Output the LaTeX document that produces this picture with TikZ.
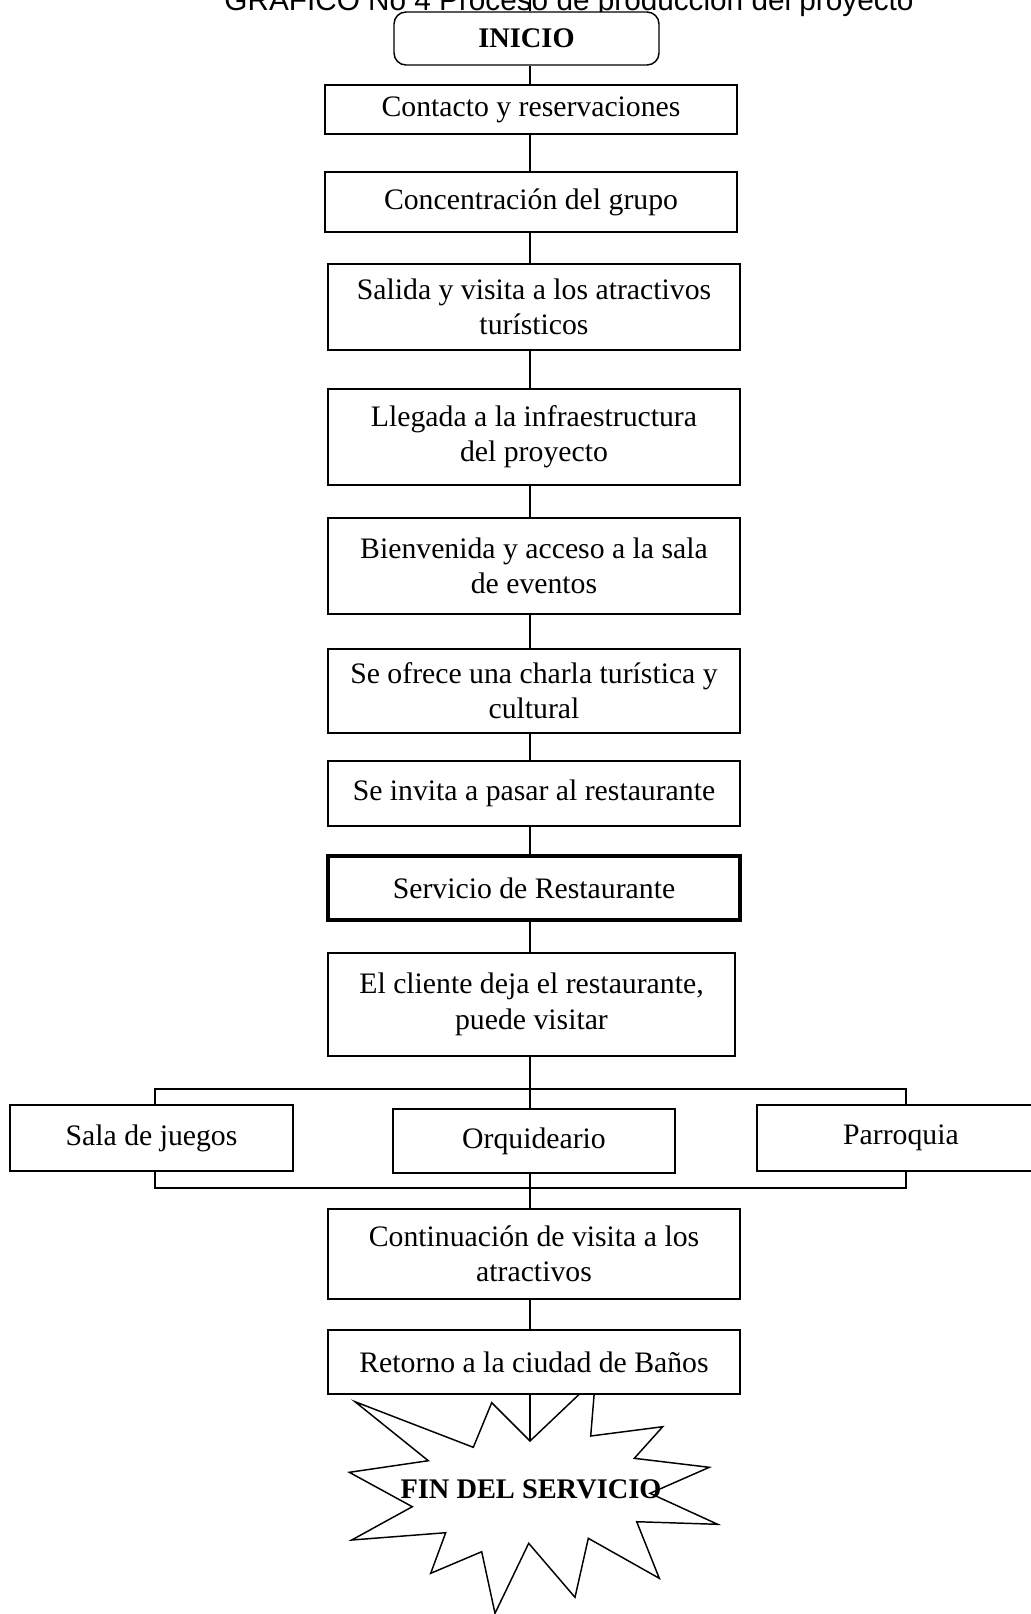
\documentclass[tikz,border=0pt]{standalone}
\usepackage{fontspec}
\setmainfont{Liberation Serif}
\newfontfamily\titlefont{Liberation Sans}
\begin{document}
\begin{tikzpicture}[x=0.75pt,y=-0.75pt,
  box/.style={draw, line width=1.1pt, fill=white, align=center, inner sep=0pt,
    font=\fontsize{22.3}{26.5}\selectfont},
  thickbox/.style={box, line width=2.4pt},
  conn/.style={draw, line width=0.9pt},
  boldtext/.style={font=\bfseries\fontsize{21.3}{24}\selectfont, inner sep=0pt}]
\useasboundingbox (0,0) rectangle (1031,1614);

% title (clipped at the top edge, as in the reference)
\node[anchor=base, inner sep=0pt, font=\titlefont\fontsize{22.3}{26}\selectfont] (title) at (569,10)
  {GRAFICO No 4 Proceso de producción del proyecto};

% chain axis
\coordinate (ax) at (530,0);

% starburst (drawn first so the last box covers its top spike)
\draw[line width=1.1pt, fill=white]
  (355,1401.7) -- (473.3,1447.3) -- (491.7,1402.7) -- (530,1441) -- (595.4,1378.9)
  -- (590.7,1436) -- (662.7,1426.7) -- (634.3,1458.3) -- (709.3,1467.3)
  -- (650,1493.3) -- (717.7,1524.3) -- (636.7,1521.7) -- (659.3,1578.3)
  -- (588.3,1538.3) -- (575,1597.3) -- (528.7,1543.3) -- (495,1613.3)
  -- (481.7,1551.7) -- (430.7,1573.3) -- (445.7,1532.7) -- (351.7,1540)
  -- (412.3,1506.7) -- (349.3,1472.3) -- (428.3,1460.7) -- cycle;
\coordinate (starin) at (530,1441);
\node[boldtext] (fin) at (531,1489) {FIN DEL SERVICIO};

% nodes
\node[box, rounded corners=9pt, minimum width=198.75pt, minimum height=39.75pt,
  font=\bfseries\fontsize{21.3}{24}\selectfont] (inicio) at (526.5,38.5) {INICIO};
\node[box, minimum width=309pt, minimum height=36.75pt] (c1) at (531,109.5) {Contacto y reservaciones};
\node[box, minimum width=309pt, minimum height=45pt] (c2) at (531,202) {Concentración del grupo};
\node[box, minimum width=309pt, minimum height=64.5pt] (c3) at (534,307) {Salida y visita a los atractivos\\turísticos};
\node[box, minimum width=309pt, minimum height=72pt] (c4) at (534,437) {Llegada a la infraestructura\\del proyecto};
\node[box, minimum width=309pt, minimum height=72pt] (c5) at (534,566) {Bienvenida y acceso a la sala\\de eventos};
\node[box, minimum width=309pt, minimum height=63pt] (c6) at (534,691) {Se ofrece una charla turística y\\cultural};
\node[box, minimum width=309pt, minimum height=48.75pt] (c7) at (534,793.5) {Se invita a pasar al restaurante};
\node[thickbox, minimum width=309pt, minimum height=48pt] (c8) at (534,888) {Servicio de Restaurante};
\node[box, minimum width=305.25pt, minimum height=77.25pt] (c9) at (531.5,1004.5) {El cliente deja el restaurante,\\puede visitar};
\node[box, minimum width=212.25pt, minimum height=49.5pt] (sala) at (151.5,1138) {Sala de juegos};
\node[box, minimum width=211.5pt, minimum height=48pt] (orq) at (534,1141) {Orquideario};
\node[box, minimum width=216pt, minimum height=49.5pt] (parr) at (901,1138) {Parroquia};
\node[box, minimum width=309pt, minimum height=67.5pt] (c13) at (534,1254) {Continuación de visita a los\\atractivos};
\node[box, minimum width=309pt, minimum height=48pt] (c14) at (534,1362) {Retorno a la ciudad de Baños};

% connectors
\draw[conn] (ax) -- (inicio.north -| ax);
\draw[conn] (inicio.south -| ax) -- (c1.north -| ax);
\draw[conn] (c1.south -| ax) -- (c2.north -| ax);
\draw[conn] (c2.south -| ax) -- (c3.north -| ax);
\draw[conn] (c3.south -| ax) -- (c4.north -| ax);
\draw[conn] (c4.south -| ax) -- (c5.north -| ax);
\draw[conn] (c5.south -| ax) -- (c6.north -| ax);
\draw[conn] (c6.south -| ax) -- (c7.north -| ax);
\draw[conn] (c7.south -| ax) -- (c8.north -| ax);
\draw[conn] (c8.south -| ax) -- (c9.north -| ax);
\draw[conn] (c9.south -| ax) -- (orq.north -| ax);

\coordinate (blt) at (155,1089);
\coordinate (brt) at (906,1089);
\coordinate (blb) at (155,1188);
\coordinate (brb) at (906,1188);
\draw[conn] (sala.north -| blt) -- (blt) -- (brt) -- (parr.north -| brt);
\draw[conn] (sala.south -| blb) -- (blb) -- (brb) -- (parr.south -| brb);
\draw[conn] (orq.south -| ax) -- (c13.north -| ax);
\draw[conn] (c13.south -| ax) -- (c14.north -| ax);
\draw[conn] (c14.south -| ax) -- (starin);
\end{tikzpicture}
\end{document}
